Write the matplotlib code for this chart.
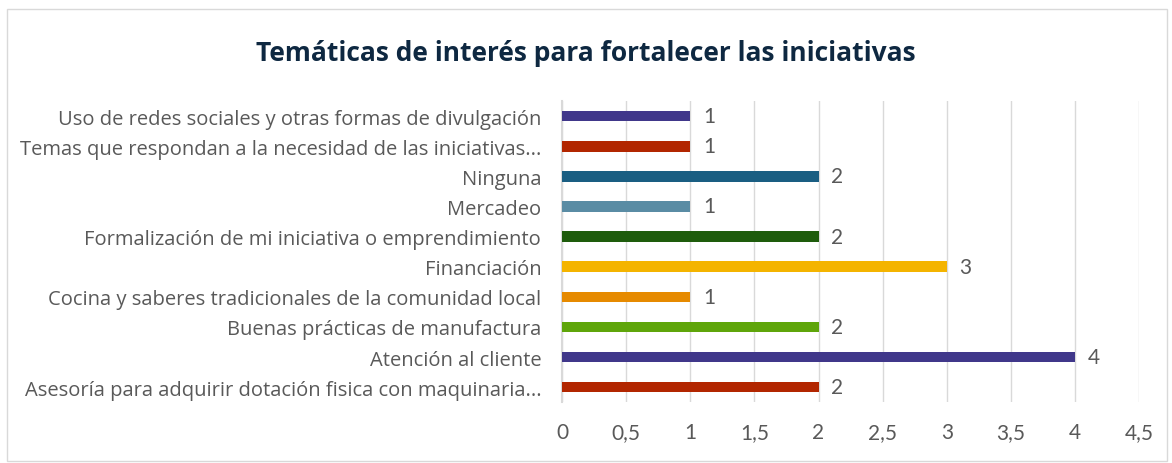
import matplotlib.pyplot as plt
from matplotlib.patches import Rectangle

# Datos (de abajo hacia arriba)
categorias = ['Asesoría para adquirir dotación fisica con maquinaria...',
              'Atención al cliente',
              'Buenas prácticas de manufactura',
              'Cocina y saberes tradicionales de la comunidad local',
              'Financiación',
              'Formalización de mi iniciativa o emprendimiento',
              'Mercadeo',
              'Ninguna',
              'Temas que respondan a la necesidad de las iniciativas...',
              'Uso de redes sociales y otras formas de divulgación']
valores = [2, 4, 2, 1, 3, 2, 1, 2, 1, 1]
colores = ['#B22600', '#40378A', '#5FA50A', '#E68A00', '#F4B400',
           '#1E5C0C', '#5A8CA4', '#1A5E82', '#B22600', '#40378A']
ticks_x = [0, 0.5, 1, 1.5, 2, 2.5, 3, 3.5, 4, 4.5]
ticks_lbl = ['0', '0,5', '1', '1,5', '2', '2,5', '3', '3,5', '4', '4,5']

plt.rcParams['font.family'] = ['Open Sans', 'DejaVu Sans']
gris = '#595959'

fig = plt.figure(figsize=(11.72, 4.64), dpi=100)
fig.patches.append(Rectangle((0.006, 0.004), 0.99, 0.975, transform=fig.transFigure,
                             fill=False, edgecolor='#D9D9D9', linewidth=1))
ax = fig.add_axes([0.4795, 0.131, 0.4925, 0.649])

y = range(len(categorias))
ax.barh(y, valores, height=0.35, color=colores, zorder=3)
for i, v in enumerate(valores):
    ax.text(v + 0.1, i, str(v), va='center', ha='left', fontsize=15, color=gris,
            family=['Lato', 'DejaVu Sans'])

ax.set_xlim(0, 4.5)
ax.set_ylim(-0.5, len(categorias) - 0.5)
ax.set_xticks(ticks_x)
ax.set_xticklabels(ticks_lbl, fontsize=15, color=gris, family=['Lato', 'DejaVu Sans'])
ax.set_yticks(list(y))
ax.set_yticklabels(categorias, fontsize=14.5, color=gris)
ax.tick_params(axis='both', length=0)
ax.tick_params(axis='x', pad=14)
ax.tick_params(axis='y', pad=15)
ax.grid(axis='x', color='#D9D9D9', linewidth=1, zorder=0)
for s in ['top', 'right', 'bottom']:
    ax.spines[s].set_visible(False)
ax.spines['left'].set_color('#D9D9D9')
ax.spines['left'].set_linewidth(1.5)

fig.text(0.5, 0.885, 'Temáticas de interés para fortalecer las iniciativas',
         ha='center', va='center', fontsize=19, fontweight='bold',
         color='#0E2841', family=['Open Sans', 'DejaVu Sans'])

plt.savefig('out.png', dpi=100)
